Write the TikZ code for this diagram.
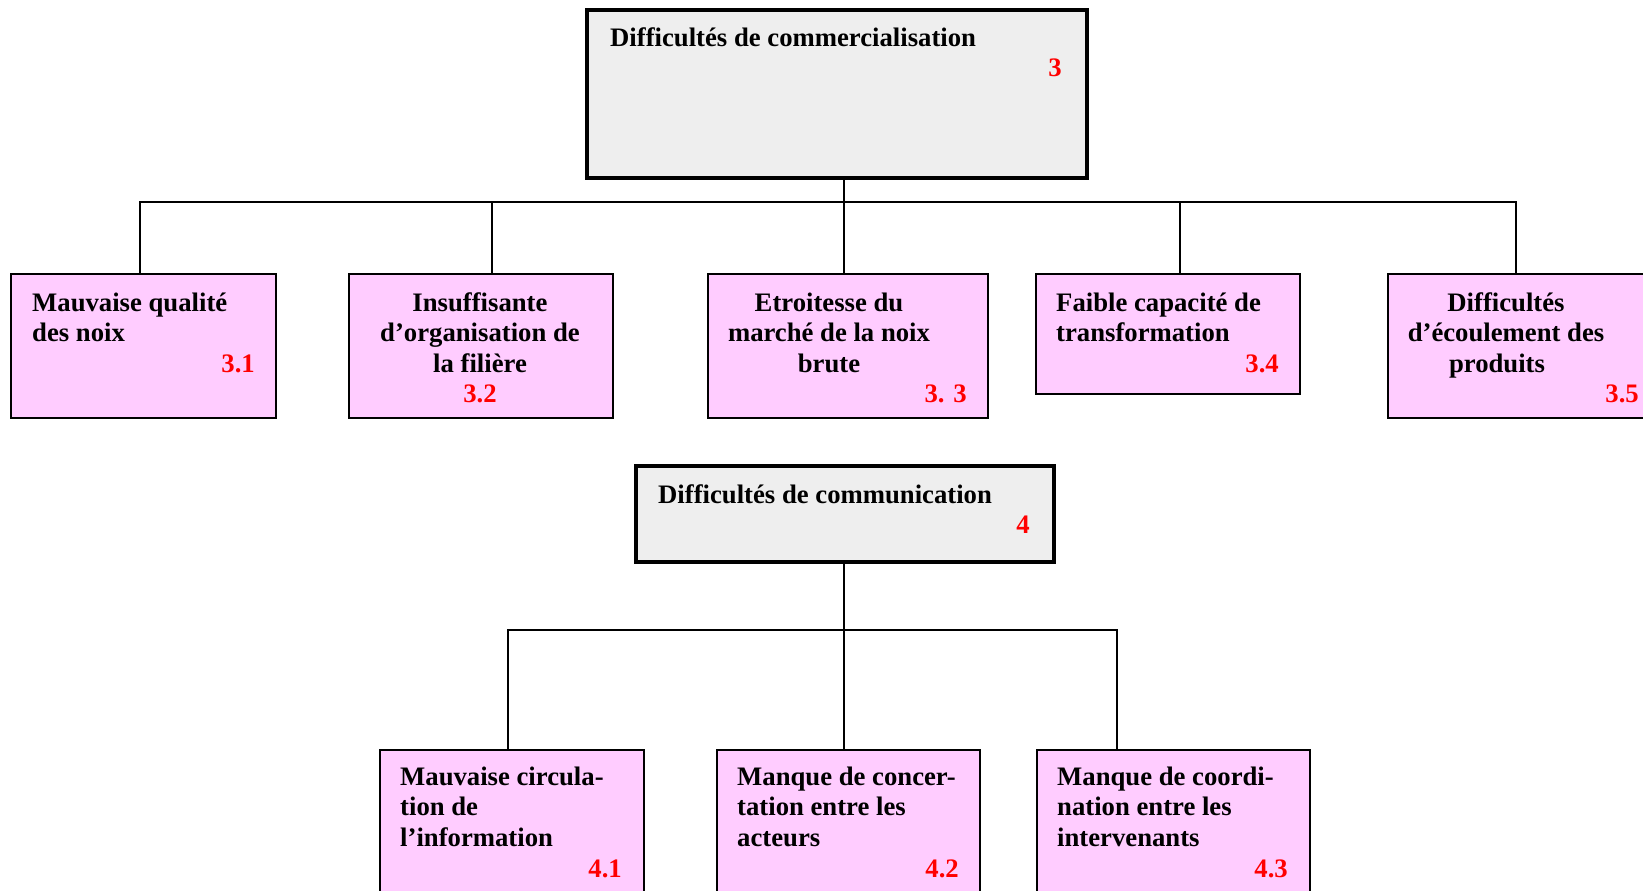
\documentclass[tikz,border=0pt]{standalone}
\usepackage{fontspec}
\setmainfont{Liberation Serif}
\definecolor{pinkbox}{RGB}{255,204,255}
\definecolor{numred}{RGB}{255,0,0}
\definecolor{greybox}{RGB}{238,238,238}
\newcommand{\myleft}[1]{\begin{tabular}[t]{@{}l@{}}#1\end{tabular}}
\newcommand{\mycent}[1]{\begin{tabular}[t]{@{}c@{}}#1\end{tabular}}
\tikzset{
  pbox/.style={draw=black, line width=1.8pt, fill=pinkbox, anchor=north west, inner sep=0pt, outer sep=0pt},
  gbox/.style={draw=black, line width=3.8pt, fill=greybox, anchor=north west, inner sep=0pt, outer sep=0pt},
  txt/.style={font=\fontsize{26.7}{30.5}\bfseries\selectfont, inner sep=0pt, text=black},
  lt/.style={txt, anchor=base west},
  ct/.style={txt, anchor=base},
  num/.style={txt, text=numred, anchor=base east},
  numc/.style={txt, text=numred, anchor=base},
  link/.style={draw=black, line width=1.8pt}
}
\begin{document}
\begin{tikzpicture}[x=1pt,y=-1pt]
\path[use as bounding box, clip] (0,0) rectangle (1643,891);
\fill[white] (0,0) rectangle (1643,891);

% level 3
\node[gbox, minimum width=500pt, minimum height=168pt] (c3) at (587,10) {};
\node[lt] (c3t) at (610,47) {Difficultés de commercialisation};
\node[num] (c3n) at (1062,77) {3};

\node[pbox, minimum width=265pt, minimum height=144pt] (b31) at (11,274) {};
\node[pbox, minimum width=264pt, minimum height=144pt] (b32) at (349,274) {};
\node[pbox, minimum width=280pt, minimum height=144pt] (b33) at (708,274) {};
\node[pbox, minimum width=264pt, minimum height=120pt] (b34) at (1036,274) {};
\node[pbox, minimum width=272pt, minimum height=144pt] (b35) at (1388,274) {};

\node[lt] (t31) at (32,311) {\myleft{Mauvaise qualité\\des noix}};
\node[num] (n31) at (255,372) {3.1};
\node[ct] (t32) at (480,311) {\mycent{Insuffisante\\d’organisation de\\la filière}};
\node[numc] (n32) at (480,402) {3.2};
\node[ct] (t33) at (829,311) {\mycent{Etroitesse du\\marché de la noix\\brute}};
\node[num] (n33) at (967,402) {3. 3};
\node[lt] (t34) at (1056,311) {\myleft{Faible capacité de\\transformation}};
\node[num] (n34) at (1279,372) {3.4};
\node[ct] (t35) at (1506,311) {\mycent{Difficultés\\d’écoulement des\\produits\hspace*{18pt}}};
\node[num] (n35) at (1639,402) {3.5};

\coordinate (s3) at (844,178);
\coordinate (bus3) at (844,202);
\coordinate (p31) at (140,274);
\coordinate (p32) at (492,274);
\coordinate (p33) at (844,274);
\coordinate (p34) at (1180,274);
\coordinate (p35) at (1516,274);
\draw[link] (s3) -- (p33);
\draw[link] (p31) -- (p31 |- bus3) -- (p35 |- bus3) -- (p35);
\draw[link] (p32) -- (p32 |- bus3);
\draw[link] (p34) -- (p34 |- bus3);

% level 4
\node[gbox, minimum width=418pt, minimum height=96pt] (c4) at (636,466) {};
\node[lt] (c4t) at (658,503) {Difficultés de communication};
\node[num] (c4n) at (1030,533) {4};

\node[pbox, minimum width=264pt, minimum height=160pt] (b41) at (380,750) {};
\node[pbox, minimum width=263pt, minimum height=160pt] (b42) at (717,750) {};
\node[pbox, minimum width=273pt, minimum height=160pt] (b43) at (1037,750) {};

\node[lt] (t41) at (400,785) {\myleft{Mauvaise circula-\\tion de\\l’information}};
\node[num] (n41) at (622,877) {4.1};
\node[lt] (t42) at (737,785) {\myleft{Manque de concer-\\tation entre les\\acteurs}};
\node[num] (n42) at (959,877) {4.2};
\node[lt] (t43) at (1057,785) {\myleft{Manque de coordi-\\nation entre les\\intervenants}};
\node[num] (n43) at (1288,877) {4.3};

\coordinate (s4) at (844,562);
\coordinate (bus4) at (844,630);
\coordinate (p41) at (508,750);
\coordinate (p42) at (844,750);
\coordinate (p43) at (1117,750);
\draw[link] (s4) -- (p42);
\draw[link] (p41) -- (p41 |- bus4) -- (p43 |- bus4) -- (p43);
\end{tikzpicture}
\end{document}
